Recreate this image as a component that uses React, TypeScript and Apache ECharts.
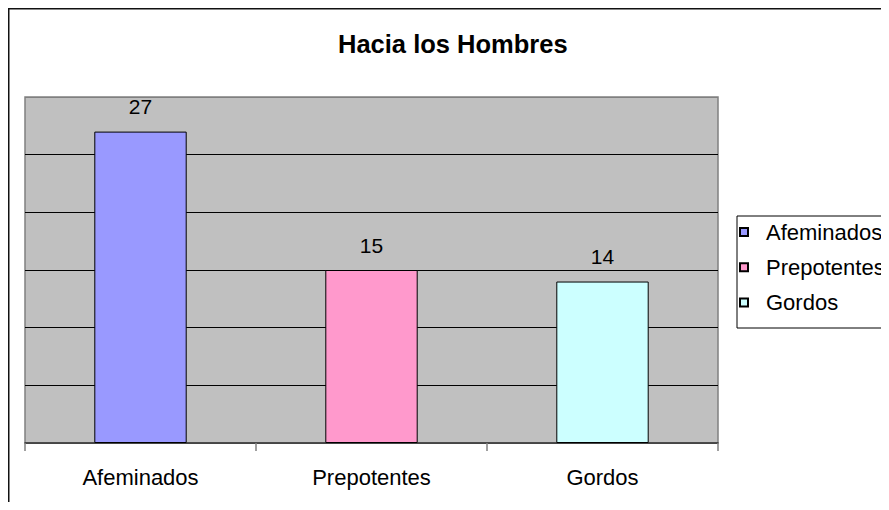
import React, { useEffect, useRef } from "react";
import * as echarts from "echarts";

const TITLE = "Hacia los Hombres";
const categories = ["Afeminados", "Prepotentes", "Gordos"];
const seriesNames = ["Afeminados", "Prepotentes", "Gordos"];
const values = [27, 15, 14];
const colors = ["#9999FF", "#FF99CC", "#CCFFFF"];
const yMin = 0;
const yMax = 30;
const yInterval = 5;

const FONT = "'Liberation Sans', Arial, Helvetica, sans-serif";

export default function App() {
  const ref = useRef<HTMLDivElement>(null);
  useEffect(() => {
    if (!ref.current) return;
    const chart = echarts.init(ref.current, undefined, { renderer: "svg" });
    const series = seriesNames.map((name, i) => ({
      name,
      type: "bar" as const,
      stack: "all",
      barWidth: "40%",
      data: categories.map((_, j) => (j === i ? values[i] : "-")),
      itemStyle: { color: colors[i], borderColor: "#000", borderWidth: 1 },
      label: {
        show: true,
        position: "top",
        distance: 14.5,
        color: "#000",
        fontSize: 21,
        fontFamily: FONT,
      },
    }));
    chart.setOption({
      animation: false,
      backgroundColor: "#fff",
      title: {
        text: TITLE,
        left: 333,
        top: 26,
        textStyle: { fontSize: 25.5, fontWeight: "bold", color: "#000", fontFamily: FONT },
      },
      legend: {
        orient: "vertical",
        left: 737,
        top: 216,
        padding: [5, 200, 14.5, 2],
        itemGap: 13.25,
        itemWidth: 8,
        itemHeight: 8,
        icon: "rect",
        borderColor: "#000",
        borderWidth: 1,
        data: seriesNames,
        textStyle: {
          fontSize: 22,
          lineHeight: 22,
          color: "#000",
          fontFamily: FONT,
          padding: [0, 0, 0, 13],
        },
      },
      grid: {
        left: 25,
        right: 171,
        top: 97,
        bottom: 67,
        show: true,
        backgroundColor: "#C0C0C0",
        borderColor: "#808080",
        borderWidth: 1.5,
        containLabel: false,
      },
      xAxis: {
        type: "category",
        data: categories,
        axisLine: { show: true, lineStyle: { color: "#333", width: 1.5 } },
        axisTick: { show: true, length: 8, lineStyle: { color: "#808080", width: 1.5 } },
        axisLabel: { color: "#000", fontSize: 22, fontFamily: FONT, margin: 23 },
      },
      yAxis: {
        type: "value",
        min: yMin,
        max: yMax,
        interval: yInterval,
        axisLine: { show: false },
        axisTick: { show: false },
        axisLabel: { show: false },
        splitLine: {
          show: true,
          lineStyle: {
            color: ["#808080", "#000", "#000", "#000", "#000", "#000", "#808080"],
            width: 1,
          },
        },
      },
      graphic: [
        {
          type: "rect",
          shape: { x: 8.75, y: 8.75, width: 2000, height: 2000 },
          style: { fill: "none", stroke: "#111", lineWidth: 1.5 },
          silent: true,
        },
      ],
      series,
    });
    return () => chart.dispose();
  }, []);
  return (
    <div
      ref={ref}
      style={{ width: 889, height: 510, margin: -8 }}
    />
  );
}
